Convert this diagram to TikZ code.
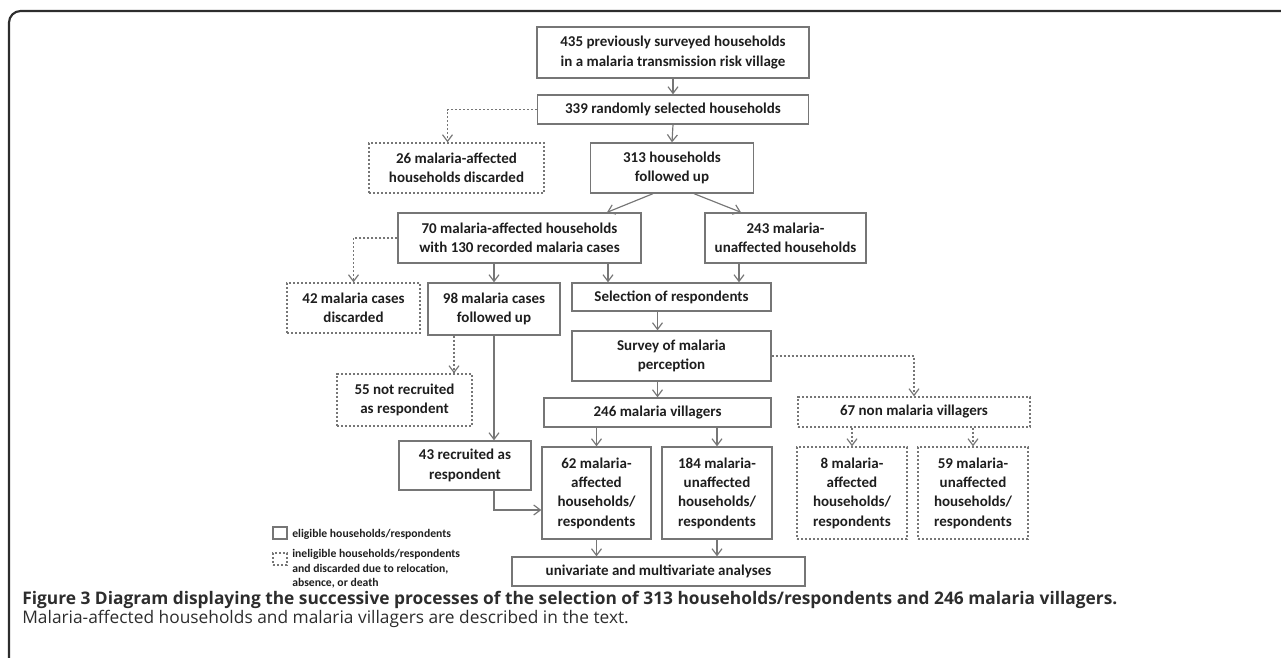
\documentclass[tikz,border=0pt]{standalone}
\usepackage{fontspec}
\setmainfont{Carlito}
\newfontfamily\capfont{Open Sans}
\usetikzlibrary{arrows.meta,calc}

\definecolor{boxgray}{RGB}{118,118,118}
\definecolor{textblack}{RGB}{30,30,30}
\definecolor{framegray}{RGB}{45,45,45}

\tikzset{
	wh/.style 2 args={minimum width=#1*0.6pt, minimum height=#2*0.6pt},
	box/.style={draw=boxgray, line width=0.8pt, align=center, inner sep=0pt, text=textblack, font=\bfseries\fontsize{9}{11.6}\selectfont},
	dbox/.style={box, dash pattern=on 1.3pt off 1.1pt},
	arr/.style={draw=boxgray, line width=0.7pt, -{Straight Barb[length=4pt,width=6pt]}},
	darr/.style={arr, dash pattern=on 1.3pt off 1.1pt},
	legtext/.style={anchor=west, inner sep=0pt, align=left, text=textblack, font=\bfseries\fontsize{7}{8.7}\selectfont}
}

\begin{document}
\begin{tikzpicture}[x=0.6pt, y=-0.6pt]
	\useasboundingbox (0,0) rectangle (1281,658);
	\draw[framegray, line width=1.3pt, rounded corners=7pt] (1281,11) -- (9,11) -- (9,658);

	% eligible path
	\node[box, wh={272}{51}] (prev) at (673,52.5) {435 previously surveyed households\\in a malaria transmission risk village};
	\node[box, wh={271}{29}] (rand) at (673,109.5) {339 randomly selected households};
	\node[box, wh={163}{50}] (fol) at (672,168) {313 households\\followed up};
	\node[dbox, wh={175}{50}] (disc) at (456.5,168) {26 malaria-affected\\households discarded};
	\node[box, wh={243}{50}] (aff) at (519.5,238) {70 malaria-affected households\\with 130 recorded malaria cases};
	\node[box, wh={161}{50}] (unaff) at (785.5,238) {243 malaria-\\unaffected households};
	\node[dbox, wh={133}{50}] (cdisc) at (353.5,308) {42 malaria cases\\discarded};
	\node[box, wh={132}{52}] (cfol) at (494,309) {98 malaria cases\\followed up};
	\node[box, wh={199}{28}] (sel) at (671.5,297) {Selection of respondents};
	\node[box, wh={199}{50}] (surv) at (671.5,356) {Survey of malaria\\perception};
	\node[dbox, wh={135}{52}] (notrec) at (404.5,400) {55 not recruited\\as respondent};
	\node[box, wh={132}{49}] (rec) at (465,465.5) {43 recruited as\\respondent};
	\node[box, wh={227}{29}] (vil) at (657.5,412.5) {246 malaria villagers};
	\node[dbox, wh={232}{30}] (nonvil) at (914,412) {67 non malaria villagers};
	\node[box, wh={109}{92}] (vaff) at (596.5,493) {62 malaria-\\affected\\households/\\respondents};
	\node[box, wh={110}{92}] (vunaff) at (717,493) {184 malaria-\\unaffected\\households/\\respondents};
	\node[dbox, wh={110}{92}] (naff) at (852,493) {8 malaria-\\affected\\households/\\respondents};
	\node[dbox, wh={110}{92}] (nunaff) at (973,493) {59 malaria-\\unaffected\\households/\\respondents};
	\node[box, wh={293}{29}] (ana) at (658.5,571.5) {univariate and multivariate analyses};

	% connectors
	\draw[arr] (prev.south) -- (rand.north);
	\draw[arr] (rand.south) -- (fol.north);
	\draw[darr] (rand.west) -| ($(disc.north)+(-9,0)$);
	\draw[arr] ($(fol.south)+(-19,0)$) -- ($(aff.north)+(87.5,0)$);
	\draw[arr] ($(fol.south)+(22,0)$) -- ($(unaff.north)+(-44.5,0)$);
	\draw[darr] (aff.west) -| (cdisc.north);
	\draw[arr] (aff.south -| cfol.north) -- (cfol.north);
	\draw[arr] ($(aff.south)+(88.5,0)$) -- ($(sel.north)+(-63.5,0)$);
	\draw[arr] ($(unaff.south)+(-46.5,0)$) -- ($(sel.north)+(67.5,0)$);
	\draw[arr] (vil.north |- sel.south) -- (vil.north |- surv.north);
	\draw[darr] (surv.east) -| (nonvil.north);
	\draw[darr] (nonvil.south -| naff.north) -- (naff.north);
	\draw[darr] (nonvil.south -| nunaff.north) -- (nunaff.north);
	\draw[darr] ($(cfol.south)+(-40,0)$) -- ($(notrec.north)+(49.5,0)$);
	\draw[arr] (cfol.south) -- (cfol.south |- rec.north);
	\draw[arr] (rec.south -| cfol.south) |- ($(vaff.west)+(0,17)$);
	\draw[arr] (vil.north |- surv.south) -- (vil.north);
	\draw[arr] (vil.south -| vaff.north) -- (vaff.north);
	\draw[arr] (vil.south -| vunaff.north) -- (vunaff.north);
	\draw[arr] (vaff.south) -- (vaff.south |- ana.north);
	\draw[arr] (vunaff.south) -- (vunaff.south |- ana.north);

	% legend
	\node[box, wh={14}{12}] (legel) at (280,533) {};
	\node[dbox, wh={14}{12}] (legin) at (280,559) {};
	\node[legtext] (legeltxt) at (292,534) {eligible households/respondents};
	\node[legtext, anchor=north west] (legintxt) at (292,549) {ineligible households/respondents\\and discarded due to relocation,\\absence, or death};

	% caption
	\node[anchor=west, inner sep=0pt, text=framegray, font=\capfont\bfseries\fontsize{10.4}{12}\selectfont] (cap) at (22,600) {Figure 3 Diagram displaying the successive processes of the selection of 313 households/respondents and 246 malaria villagers.};
	\node[anchor=west, inner sep=0pt, text=framegray, font=\capfont\fontsize{10.4}{12}\selectfont] (capsub) at (22,619) {Malaria-affected households and malaria villagers are described in the text.};
\end{tikzpicture}
\end{document}
